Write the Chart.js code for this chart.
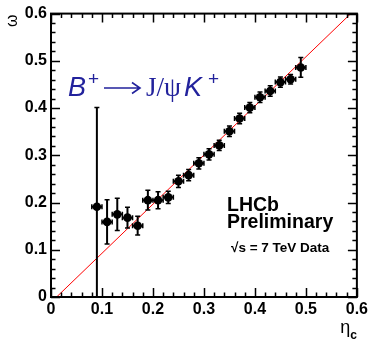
<!DOCTYPE html>
<html>
<head>
<meta charset="utf-8">
<script src="https://cdn.jsdelivr.net/npm/chart.js@4.4.1/dist/chart.umd.min.js"></script>
<style>
  html, body { margin: 0; padding: 0; background: #fff; }
  #wrap { width: 371px; height: 341px; }
</style>
</head>
<body>
<div id="wrap"><canvas id="chartCanvas" width="371" height="341"></canvas></div>
<script>
// datos
const etaVals = [0.09, 0.11, 0.13, 0.15, 0.17, 0.19, 0.21, 0.23, 0.25, 0.27, 0.29,
                 0.31, 0.33, 0.35, 0.37, 0.39, 0.41, 0.43, 0.45, 0.47, 0.49];
const omegaVals = [0.191, 0.159, 0.175, 0.168, 0.151, 0.205, 0.205, 0.211, 0.245, 0.258, 0.283,
                   0.302, 0.321, 0.351, 0.378, 0.401, 0.423, 0.436, 0.455, 0.461, 0.486];
const omegaErr = [0.21, 0.047, 0.034, 0.022, 0.02, 0.021, 0.018, 0.013, 0.013, 0.012, 0.012,
                  0.012, 0.011, 0.011, 0.011, 0.011, 0.011, 0.011, 0.011, 0.01, 0.021];
const etaErr = [0.01, 0.01, 0.01, 0.01, 0.01, 0.01, 0.01, 0.01, 0.01, 0.01, 0.01,
                0.01, 0.01, 0.01, 0.01, 0.01, 0.01, 0.01, 0.01, 0.01, 0.01];

// recta del ajuste (extremos)
const fitEta = [0.011, 0.588];
const fitOmega = [0, 0.6];

const tickVals = [0, 0.1, 0.2, 0.3, 0.4, 0.5, 0.6];
const minorStep = 0.02;

const SANS = '"Liberation Sans", Arial, Helvetica, sans-serif';
const SERIF = '"Liberation Serif", "Times New Roman", serif';

function fmt(v) {
  return String(+v.toFixed(1));
}

// marco con marcas tipo ROOT
const framePlugin = {
  id: 'frame',
  afterDraw(chart) {
    const { ctx, chartArea: a, scales } = chart;
    ctx.save();
    ctx.strokeStyle = '#000';
    ctx.lineWidth = 1.5;
    ctx.beginPath();
    const nMinor = Math.round(0.6 / minorStep);
    for (let i = 0; i <= nMinor; i++) {
      const v = i * minorStep;
      const major = tickVals.some(t => Math.abs(t - v) < 1e-9);
      const len = major ? 9 : 4.5;
      const px = Math.round(scales.x.getPixelForValue(v)) + 0.5;
      const py = Math.round(scales.y.getPixelForValue(v)) + 0.5;
      // abajo y arriba
      ctx.moveTo(px, a.bottom); ctx.lineTo(px, a.bottom - len);
      ctx.moveTo(px, a.top); ctx.lineTo(px, a.top + len);
      // izquierda y derecha
      ctx.moveTo(a.left, py); ctx.lineTo(a.left + len, py);
      ctx.moveTo(a.right, py); ctx.lineTo(a.right - len, py);
    }
    ctx.stroke();
    ctx.lineWidth = 2;
    ctx.strokeRect(a.left, a.top, a.right - a.left, a.bottom - a.top);
    ctx.restore();
  }
};

// barras de error
const errorPlugin = {
  id: 'errbars',
  afterDatasetsDraw(chart) {
    const { ctx, chartArea: a, scales } = chart;
    const xs = scales.x, ys = scales.y;
    ctx.save();
    ctx.beginPath();
    ctx.rect(a.left, a.top, a.right - a.left, a.bottom - a.top);
    ctx.clip();
    ctx.strokeStyle = '#000';
    ctx.lineWidth = 2;
    ctx.beginPath();
    etaVals.forEach((e, i) => {
      const x = xs.getPixelForValue(e);
      const y = ys.getPixelForValue(omegaVals[i]);
      const y1 = ys.getPixelForValue(omegaVals[i] + omegaErr[i]);
      const y2 = ys.getPixelForValue(omegaVals[i] - omegaErr[i]);
      const x1 = xs.getPixelForValue(e - etaErr[i]);
      const x2 = xs.getPixelForValue(e + etaErr[i]);
      ctx.moveTo(x, y1); ctx.lineTo(x, y2);
      ctx.moveTo(x1, y); ctx.lineTo(x2, y);
    });
    ctx.stroke();
    // topes
    ctx.lineWidth = 1.5;
    ctx.beginPath();
    etaVals.forEach((e, i) => {
      const x = xs.getPixelForValue(e);
      const y = ys.getPixelForValue(omegaVals[i]);
      const y1 = ys.getPixelForValue(omegaVals[i] + omegaErr[i]);
      const y2 = ys.getPixelForValue(omegaVals[i] - omegaErr[i]);
      const x1 = xs.getPixelForValue(e - etaErr[i]);
      const x2 = xs.getPixelForValue(e + etaErr[i]);
      ctx.moveTo(x - 2.5, y1); ctx.lineTo(x + 2.5, y1);
      ctx.moveTo(x - 2.5, y2); ctx.lineTo(x + 2.5, y2);
      ctx.moveTo(x1, y - 2.5); ctx.lineTo(x1, y + 2.5);
      ctx.moveTo(x2, y - 2.5); ctx.lineTo(x2, y + 2.5);
    });
    ctx.stroke();
    ctx.restore();
  }
};

// textos
const textPlugin = {
  id: 'texts',
  afterDraw(chart) {
    const { ctx, chartArea: a } = chart;
    ctx.save();
    ctx.fillStyle = '#000';
    ctx.textBaseline = 'alphabetic';

    // titulo eje y
    ctx.save();
    ctx.translate(17, a.top + 1);
    ctx.rotate(-Math.PI / 2);
    ctx.textAlign = 'right';
    ctx.font = '16px ' + SANS;
    ctx.fillText('\u03c9', 0, 0);
    ctx.restore();

    // titulo eje x
    ctx.textAlign = 'left';
    ctx.font = '18px ' + SANS;
    const etaW = ctx.measureText('\u03b7').width;
    ctx.font = 'bold 12px ' + SANS;
    const cW = ctx.measureText('c').width;
    const x0 = a.right - etaW - cW;
    ctx.font = '18px ' + SANS;
    ctx.fillText('\u03b7', x0, 333);
    ctx.font = 'bold 12px ' + SANS;
    ctx.fillText('c', x0 + etaW, 339);

    // LHCb
    ctx.font = 'bold 19.5px ' + SANS;
    ctx.fillText('LHCb', 227, 211);
    ctx.fillText('Preliminary', 227, 228);
    ctx.font = 'bold 13.5px ' + SANS;
    ctx.fillText('\u221as = 7 TeV Data', 231, 252);

    // B+ -> J/psi K+
    const blue = '#22229c';
    ctx.fillStyle = blue;
    ctx.strokeStyle = blue;
    const base = 96;
    ctx.font = 'italic 27px ' + SANS;
    ctx.fillText('B', 68, base);
    ctx.font = '19px ' + SANS;
    ctx.fillText('+', 88, base - 11);
    // flecha
    ctx.lineWidth = 1.6;
    ctx.beginPath();
    ctx.moveTo(104, 88); ctx.lineTo(139, 88);
    ctx.moveTo(132, 82.5); ctx.lineTo(140, 88); ctx.lineTo(132, 93.5);
    ctx.stroke();
    ctx.font = '27px ' + SERIF;
    ctx.fillText('J/\u03c8', 146, base);
    ctx.font = 'italic 27px ' + SANS;
    ctx.fillText('K', 184, base);
    ctx.font = '19px ' + SANS;
    ctx.fillText('+', 208, base - 11);
    ctx.restore();
  }
};

const tickFont = { family: SANS, size: 16, weight: 'bold' };

const ctx = document.getElementById('chartCanvas').getContext('2d');
new Chart(ctx, {
  type: 'scatter',
  data: {
    datasets: [
      {
        type: 'line',
        data: fitEta.map((e, i) => ({ x: e, y: fitOmega[i] })),
        borderColor: '#ff0000',
        borderWidth: 1,
        pointRadius: 0,
        fill: false,
        order: 2
      },
      {
        data: etaVals.map((e, i) => ({ x: e, y: omegaVals[i] })),
        backgroundColor: '#000',
        borderColor: '#000',
        pointRadius: 4.3,
        pointBorderWidth: 0,
        order: 1
      }
    ]
  },
  options: {
    responsive: false,
    animation: false,
    events: [],
    layout: { padding: { top: 13, right: 13, left: 0, bottom: 0 } },
    plugins: { legend: { display: false }, tooltip: { enabled: false } },
    scales: {
      x: {
        type: 'linear',
        min: 0, max: 0.6,
        afterFit: s => { s.height = 44; },
        afterBuildTicks: s => { s.ticks = tickVals.map(v => ({ value: v })); },
        grid: { display: false, drawTicks: false },
        border: { display: false },
        ticks: { font: tickFont, color: '#000', padding: 3, maxRotation: 0, callback: v => fmt(v) }
      },
      y: {
        type: 'linear',
        min: 0, max: 0.6,
        afterFit: s => { s.width = 51; },
        afterBuildTicks: s => { s.ticks = tickVals.map(v => ({ value: v })); },
        grid: { display: false, drawTicks: false },
        border: { display: false },
        ticks: { font: tickFont, color: '#000', padding: 4, callback: v => fmt(v) }
      }
    }
  },
  plugins: [framePlugin, errorPlugin, textPlugin]
});
</script>
</body>
</html>
